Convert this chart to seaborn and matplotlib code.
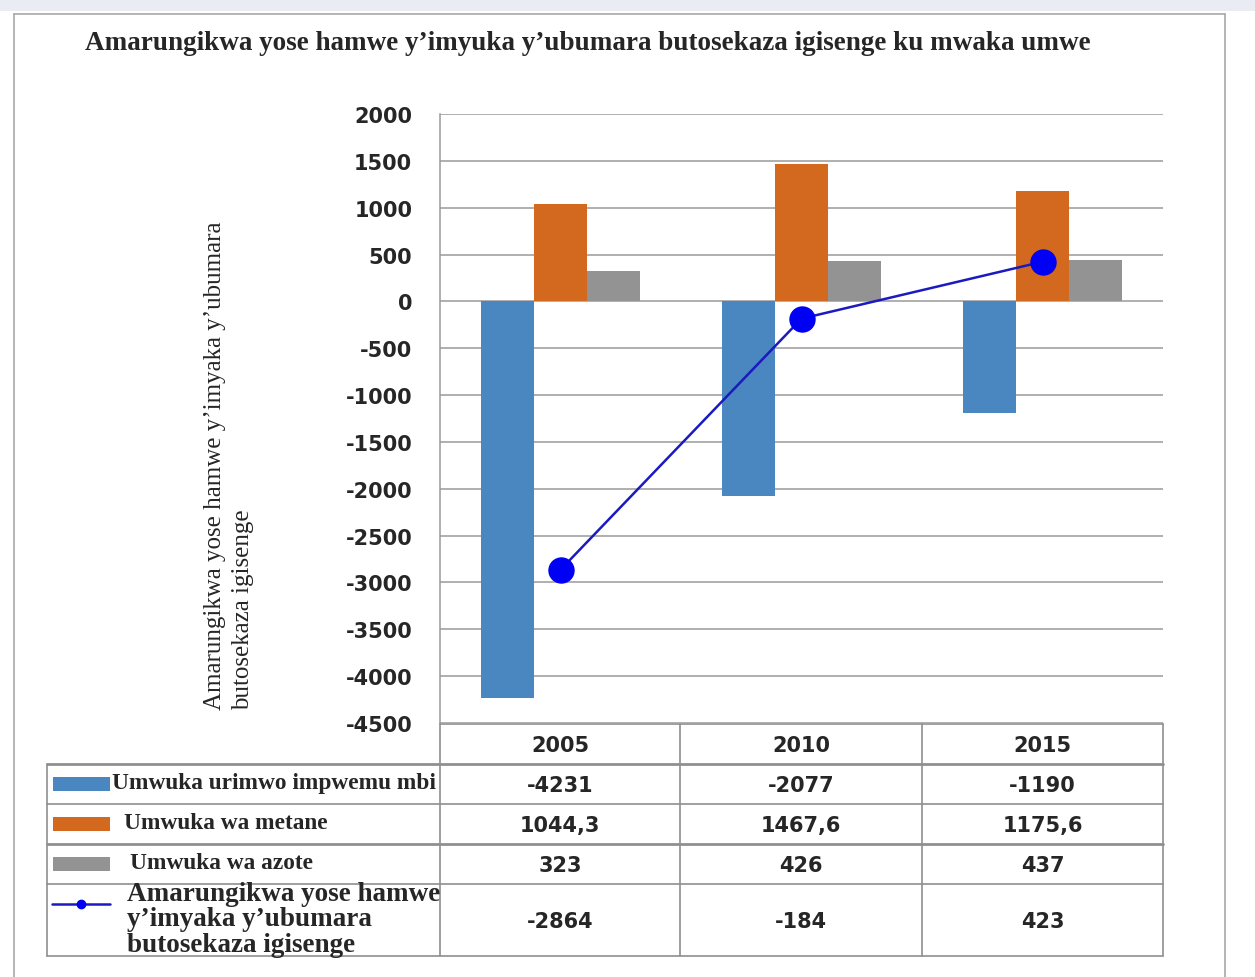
import numpy as np
import pandas as pd
import matplotlib
matplotlib.use("Agg")
import matplotlib.pyplot as plt
from matplotlib.lines import Line2D
from matplotlib.patches import Rectangle
import seaborn as sns

# ---- data -------------------------------------------------------------
years = ["2005", "2010", "2015"]
impwemu_mbi = [-4231, -2077, -1190]
metane = [1044.3, 1467.6, 1175.6]
azote = [323, 426, 437]
amarungikwa = [-2864, -184, 423]

series_names = ["Umwuka urimwo impwemu mbi", "Umwuka wa metane", "Umwuka wa azote"]
total_name = "Amarungikwa yose hamwe\ny\u2019imyaka y\u2019ubumara\nbutosekaza igisenge"
y_ticks = list(range(-4500, 2001, 500))

title = ("Amarungikwa yose hamwe y\u2019imyuka y\u2019ubumara butosekaza "
         "igisenge ku mwaka umwe")
y_label = ("Amarungikwa yose hamwe y\u2019imyaka y\u2019ubumara\n"
           "butosekaza igisenge")

bar_colors = ["#4a86bf", "#d2691f", "#939393"]
line_color = "#1a1ac0"
marker_color = "#0000f5"
grid_color = "#9a9a9a"

# ---- figure -----------------------------------------------------------
W, H = 1255, 978
sns.set_style("white")
fig = plt.figure(figsize=(W / 100, H / 100), dpi=100)


def fx(px):
    return px / W


def fy(py):
    return 1 - py / H


# page band and outer frame
fig.patches.append(Rectangle((0, fy(12)), 1, 12 / H, transform=fig.transFigure,
                             facecolor="#e9edf3", edgecolor="none", zorder=0))
for xs, ys in [((14, 14), (15, 978)), ((1225, 1225), (15, 978)), ((14, 1225), (15, 15))]:
    fig.add_artist(Line2D([fx(x) for x in xs], [fy(y) for y in ys],
                          color="#a8a8a8", lw=1.2, transform=fig.transFigure))

ax_l, ax_r, ax_t, ax_b = 440, 1163, 115, 724
ax = fig.add_axes([fx(ax_l), fy(ax_b), fx(ax_r) - fx(ax_l), fy(ax_t) - fy(ax_b)])

df = pd.DataFrame({
    "year": np.repeat(years, 3),
    "series": series_names * len(years),
    "value": np.column_stack([impwemu_mbi, metane, azote]).ravel(),
})
sns.barplot(data=df, x="year", y="value", hue="series", hue_order=series_names,
            palette=bar_colors, saturation=1, width=0.66, gap=0, ax=ax,
            legend=False, zorder=3, linewidth=0, edgecolor="none")

ax.plot(range(len(years)), amarungikwa, color=line_color, lw=1.8, marker="o",
        markersize=18, markerfacecolor=marker_color, markeredgecolor=marker_color,
        zorder=5, clip_on=False)

ax.set_ylim(-4500, 2000)
ax.set_xlim(-0.5, len(years) - 0.5)
ax.set_yticks(y_ticks)
ax.set_yticklabels([str(t) for t in y_ticks], fontsize=15, fontweight="bold",
                   family="DejaVu Sans")
ax.tick_params(axis="y", length=0, pad=20)
ax.set_xticks([])
ax.set_xlabel("")
ax.set_ylabel("")
ax.grid(axis="y", color=grid_color, lw=1.1, zorder=0)
ax.set_axisbelow(True)
for side in ["top", "right", "bottom"]:
    ax.spines[side].set_visible(False)
ax.spines["left"].set_color(grid_color)
ax.spines["left"].set_linewidth(1.1)

# ---- titles -----------------------------------------------------------
fig.text(fx(85), fy(43), title, ha="left", va="center", fontsize=19.5,
         fontweight="bold", family="Liberation Serif")
fig.text(fx(229), fy(466), y_label, rotation=90, ha="center", va="center",
         multialignment="left", fontsize=18, family="Liberation Serif",
         linespacing=1.3)

# ---- data table -------------------------------------------------------
col_x = [440, 680, 922, 1163]
row_y = [725, 765, 805, 845, 885, 957]
left_x = 47
tcolor = "#8f8f8f"


def hline(y, x0, x1, lw=1.2):
    fig.add_artist(Line2D([fx(x0), fx(x1)], [fy(y), fy(y)], color=tcolor, lw=lw,
                          transform=fig.transFigure))


def vline(x, y0, y1, lw=1.2):
    fig.add_artist(Line2D([fx(x), fx(x)], [fy(y0), fy(y1)], color=tcolor, lw=lw,
                          transform=fig.transFigure))


hline(row_y[0], col_x[0], col_x[-1])
for i, y in enumerate(row_y[1:]):
    hline(y, left_x, col_x[-1], lw=2.0 if i in (0, 2) else 1.2)
vline(left_x, row_y[1], row_y[-1])
for x in col_x:
    vline(x, row_y[0], row_y[-1])

for j, yr in enumerate(years):
    cx = (col_x[j] + col_x[j + 1]) / 2
    fig.text(fx(cx), fy((row_y[0] + row_y[1]) / 2 + 1), yr, ha="center", va="center",
             fontsize=15, fontweight="bold", family="DejaVu Sans")

rows = [impwemu_mbi, metane, azote, amarungikwa]


def fmt(v):
    return f"{v:g}".replace(".", ",")


for i, vals in enumerate(rows):
    cy = (row_y[i + 1] + row_y[i + 2]) / 2
    for j, v in enumerate(vals):
        cx = (col_x[j] + col_x[j + 1]) / 2
        fig.text(fx(cx), fy(cy + 1), fmt(v), ha="center", va="center",
                 fontsize=15, fontweight="bold", family="DejaVu Sans")

# row headers with legend keys
label_x = [112, 124, 130]
for i, name in enumerate(series_names):
    cy = (row_y[i + 1] + row_y[i + 2]) / 2
    fig.patches.append(Rectangle((fx(53), fy(cy + 7)), fx(110) - fx(53), 14 / H,
                                 transform=fig.transFigure, facecolor=bar_colors[i],
                                 edgecolor="none"))
    fig.text(fx(label_x[i]), fy(cy - 1), name, ha="left", va="center",
             fontsize=16.8, fontweight="bold", family="Liberation Serif")

cy = (row_y[4] + row_y[5]) / 2
fig.add_artist(Line2D([fx(52), fx(110)], [fy(905), fy(905)], color=line_color,
                      lw=1.8, transform=fig.transFigure))
fig.add_artist(Line2D([fx(81)], [fy(905)], color=marker_color, marker="o",
                      markersize=6, lw=0, transform=fig.transFigure))
fig.text(fx(127), fy(cy - 1), total_name, ha="left", va="center",
         fontsize=19.5, fontweight="bold", family="Liberation Serif", linespacing=1.05)

fig.savefig("out.png", dpi=100)
